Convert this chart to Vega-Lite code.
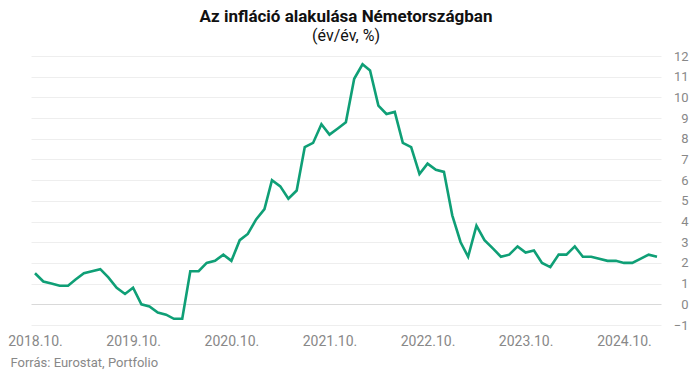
{
  "$schema": "https://vega.github.io/schema/vega-lite/v6.json",
  "width": 630,
  "height": 269,
  "autosize": {"type": "none"},
  "padding": {"left": 31, "top": 56, "right": 29, "bottom": 51},
  "background": "white",
  "title": {
    "text": "Az infláció alakulása Németországban",
    "subtitle": "(év/év, %)",
    "anchor": "middle",
    "frame": "group",
    "font": "Roboto",
    "fontSize": 17,
    "fontWeight": "bold",
    "color": "#111111",
    "subtitleFont": "Roboto",
    "subtitleFontSize": 16,
    "subtitleColor": "#111111",
    "subtitlePadding": 2,
    "offset": 5
  },
  "data": {
    "values": [
      {"date": "2018-10-01", "value": 1.5},
      {"date": "2018-11-01", "value": 1.1},
      {"date": "2018-12-01", "value": 1.0},
      {"date": "2019-01-01", "value": 0.9},
      {"date": "2019-02-01", "value": 0.9},
      {"date": "2019-03-01", "value": 1.2},
      {"date": "2019-04-01", "value": 1.5},
      {"date": "2019-05-01", "value": 1.6},
      {"date": "2019-06-01", "value": 1.7},
      {"date": "2019-07-01", "value": 1.3},
      {"date": "2019-08-01", "value": 0.8},
      {"date": "2019-09-01", "value": 0.5},
      {"date": "2019-10-01", "value": 0.8},
      {"date": "2019-11-01", "value": 0.0},
      {"date": "2019-12-01", "value": -0.1},
      {"date": "2020-01-01", "value": -0.4},
      {"date": "2020-02-01", "value": -0.5},
      {"date": "2020-03-01", "value": -0.7},
      {"date": "2020-04-01", "value": -0.7},
      {"date": "2020-05-01", "value": 1.6},
      {"date": "2020-06-01", "value": 1.6},
      {"date": "2020-07-01", "value": 2.0},
      {"date": "2020-08-01", "value": 2.1},
      {"date": "2020-09-01", "value": 2.4},
      {"date": "2020-10-01", "value": 2.1},
      {"date": "2020-11-01", "value": 3.1},
      {"date": "2020-12-01", "value": 3.4},
      {"date": "2021-01-01", "value": 4.1},
      {"date": "2021-02-01", "value": 4.6},
      {"date": "2021-03-01", "value": 6.0},
      {"date": "2021-04-01", "value": 5.7},
      {"date": "2021-05-01", "value": 5.1},
      {"date": "2021-06-01", "value": 5.5},
      {"date": "2021-07-01", "value": 7.6},
      {"date": "2021-08-01", "value": 7.8},
      {"date": "2021-09-01", "value": 8.7},
      {"date": "2021-10-01", "value": 8.2},
      {"date": "2021-11-01", "value": 8.5},
      {"date": "2021-12-01", "value": 8.8},
      {"date": "2022-01-01", "value": 10.9},
      {"date": "2022-02-01", "value": 11.6},
      {"date": "2022-03-01", "value": 11.3},
      {"date": "2022-04-01", "value": 9.6},
      {"date": "2022-05-01", "value": 9.2},
      {"date": "2022-06-01", "value": 9.3},
      {"date": "2022-07-01", "value": 7.8},
      {"date": "2022-08-01", "value": 7.6},
      {"date": "2022-09-01", "value": 6.3},
      {"date": "2022-10-01", "value": 6.8},
      {"date": "2022-11-01", "value": 6.5},
      {"date": "2022-12-01", "value": 6.4},
      {"date": "2023-01-01", "value": 4.3},
      {"date": "2023-02-01", "value": 3.0},
      {"date": "2023-03-01", "value": 2.3},
      {"date": "2023-04-01", "value": 3.8},
      {"date": "2023-05-01", "value": 3.1},
      {"date": "2023-06-01", "value": 2.7},
      {"date": "2023-07-01", "value": 2.3},
      {"date": "2023-08-01", "value": 2.4},
      {"date": "2023-09-01", "value": 2.8},
      {"date": "2023-10-01", "value": 2.5},
      {"date": "2023-11-01", "value": 2.6},
      {"date": "2023-12-01", "value": 2.0},
      {"date": "2024-01-01", "value": 1.8},
      {"date": "2024-02-01", "value": 2.4},
      {"date": "2024-03-01", "value": 2.4},
      {"date": "2024-04-01", "value": 2.8},
      {"date": "2024-05-01", "value": 2.3},
      {"date": "2024-06-01", "value": 2.3},
      {"date": "2024-07-01", "value": 2.2},
      {"date": "2024-08-01", "value": 2.1},
      {"date": "2024-09-01", "value": 2.1},
      {"date": "2024-10-01", "value": 2.0},
      {"date": "2024-11-01", "value": 2.0},
      {"date": "2024-12-01", "value": 2.2},
      {"date": "2025-01-01", "value": 2.4},
      {"date": "2025-02-01", "value": 2.3}
    ]
  },
  "mark": {"type": "line", "color": "#0f9f76", "strokeWidth": 2.6, "strokeJoin": "miter"},
  "encoding": {
    "x": {
      "field": "date",
      "type": "temporal",
      "scale": {"type": "utc", "padding": 4},
      "axis": {
        "values": [
          {"year": 2018, "month": 10, "date": 1, "utc": true},
          {"year": 2019, "month": 10, "date": 1, "utc": true},
          {"year": 2020, "month": 10, "date": 1, "utc": true},
          {"year": 2021, "month": 10, "date": 1, "utc": true},
          {"year": 2022, "month": 10, "date": 1, "utc": true},
          {"year": 2023, "month": 10, "date": 1, "utc": true},
          {"year": 2024, "month": 10, "date": 1, "utc": true}
        ],
        "labelExpr": "utcFormat(datum.value, '%Y.%m.')",
        "title": "Forrás: Eurostat, Portfolio",
        "titleAnchor": "start",
        "titleAlign": "left",
        "titleBaseline": "middle",
        "titleX": -21,
        "titleY": 37,
        "titleFont": "Roboto",
        "titleFontSize": 13,
        "titleFontWeight": "normal",
        "titleColor": "#888888",
        "labelFont": "Roboto",
        "labelFontSize": 14,
        "labelColor": "#888888",
        "labelPadding": 9,
        "labelFlush": false,
        "labelOverlap": false,
        "ticks": false,
        "domain": false,
        "grid": false
      }
    },
    "y": {
      "field": "value",
      "type": "quantitative",
      "scale": {"domain": [-1, 12], "nice": false, "zero": false},
      "axis": {
        "orient": "right",
        "values": [-1, 0, 1, 2, 3, 4, 5, 6, 7, 8, 9, 10, 11, 12],
        "title": null,
        "grid": true,
        "gridColor": {"condition": {"test": "datum.value === 0", "value": "#d9d9d9"}, "value": "#eeeeee"},
        "gridWidth": 1,
        "ticks": false,
        "domain": false,
        "labelAlign": "right",
        "labelPadding": 27,
        "labelOverlap": false,
        "labelFont": "Roboto",
        "labelFontSize": 13,
        "labelColor": "#888888"
      }
    }
  },
  "config": {"view": {"stroke": null}, "font": "Roboto"}
}
